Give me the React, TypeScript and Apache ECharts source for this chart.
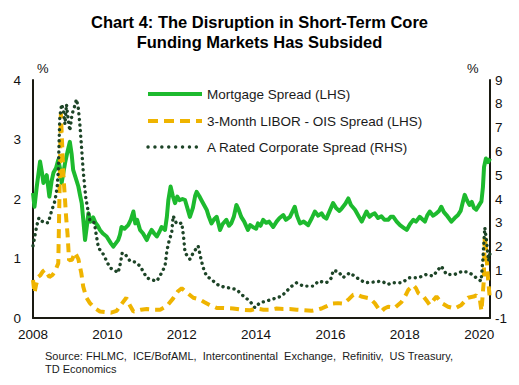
import React, { useEffect, useRef } from "react";
import * as echarts from "echarts";

const titleLines = ["Chart 4: The Disruption in Short-Term Core", "Funding Markets Has Subsided"];
const seriesNames = ["Mortgage Spread (LHS)", "3-Month LIBOR - OIS Spread (LHS)", "A Rated Corporate Spread (RHS)"];
const sourceLines = [
  "Source: FHLMC,  ICE/BofAML,  Intercontinental  Exchange,  Refinitiv,  US Treasury,",
  "TD Economics",
];
const xTickYears = [2008, 2010, 2012, 2014, 2016, 2018, 2020];
const leftTicks = [0, 1, 2, 3, 4];
const rightTicks = [-1, 0, 1, 2, 3, 4, 5, 6, 7, 8, 9];

// [decimal year, % ]
const mortgageSpread: [number, number][] = [
  [2008.0, 2.1], [2008.04, 1.87], [2008.1, 2.2], [2008.19, 2.63], [2008.24, 2.45], [2008.28, 2.27],
  [2008.33, 2.35], [2008.37, 2.4], [2008.44, 2.04], [2008.5, 2.3], [2008.55, 2.44], [2008.62, 2.52],
  [2008.68, 2.66], [2008.73, 2.5], [2008.77, 2.27], [2008.82, 2.45], [2008.86, 2.6], [2008.93, 2.8],
  [2008.99, 2.96], [2009.04, 2.75], [2009.08, 2.49], [2009.15, 2.35], [2009.22, 2.21], [2009.27, 2.05],
  [2009.31, 1.93], [2009.36, 1.6], [2009.4, 1.31], [2009.45, 1.55], [2009.49, 1.76], [2009.55, 1.62],
  [2009.62, 1.69], [2009.68, 1.6], [2009.74, 1.55], [2009.8, 1.48], [2009.88, 1.42], [2009.98, 1.37],
  [2010.05, 1.3], [2010.1, 1.25], [2010.16, 1.2], [2010.22, 1.25], [2010.29, 1.31], [2010.34, 1.4],
  [2010.38, 1.53], [2010.46, 1.5], [2010.56, 1.56], [2010.63, 1.65], [2010.7, 1.79], [2010.75, 1.59],
  [2010.8, 1.65], [2010.88, 1.48], [2010.96, 1.42], [2011.06, 1.31], [2011.12, 1.4], [2011.19, 1.48],
  [2011.26, 1.42], [2011.33, 1.37], [2011.4, 1.45], [2011.46, 1.53], [2011.55, 1.48], [2011.6, 1.7],
  [2011.64, 1.98], [2011.7, 2.21], [2011.76, 2.05], [2011.82, 1.93], [2011.88, 2.04], [2011.94, 1.98],
  [2012.02, 2.0], [2012.09, 1.98], [2012.15, 1.85], [2012.22, 1.7], [2012.3, 1.85], [2012.36, 2.05],
  [2012.4, 2.12], [2012.47, 2.05], [2012.53, 1.98], [2012.6, 1.9], [2012.67, 1.82], [2012.73, 1.7],
  [2012.8, 1.59], [2012.87, 1.66], [2012.94, 1.7], [2013.03, 1.48], [2013.1, 1.58], [2013.2, 1.65],
  [2013.27, 1.55], [2013.33, 1.59], [2013.4, 1.7], [2013.47, 1.9], [2013.53, 1.82], [2013.6, 1.7],
  [2013.68, 1.62], [2013.78, 1.48], [2013.84, 1.56], [2013.91, 1.53], [2014.0, 1.5], [2014.05, 1.59],
  [2014.12, 1.55], [2014.19, 1.65], [2014.27, 1.6], [2014.35, 1.62], [2014.46, 1.53], [2014.55, 1.62],
  [2014.63, 1.68], [2014.73, 1.73], [2014.8, 1.65], [2014.91, 1.7], [2015.04, 1.87], [2015.1, 1.72],
  [2015.18, 1.59], [2015.28, 1.62], [2015.4, 1.56], [2015.5, 1.68], [2015.58, 1.79], [2015.67, 1.72],
  [2015.76, 1.76], [2015.82, 1.7], [2015.89, 1.67], [2015.98, 1.8], [2016.07, 1.93], [2016.15, 1.85],
  [2016.24, 1.8], [2016.3, 1.84], [2016.4, 1.92], [2016.48, 2.01], [2016.55, 1.9], [2016.66, 1.82],
  [2016.75, 1.72], [2016.84, 1.62], [2016.9, 1.7], [2016.97, 1.79], [2017.05, 1.7], [2017.12, 1.74],
  [2017.19, 1.76], [2017.28, 1.68], [2017.37, 1.71], [2017.45, 1.65], [2017.55, 1.65], [2017.62, 1.7],
  [2017.69, 1.7], [2017.78, 1.62], [2017.87, 1.56], [2017.96, 1.52], [2018.05, 1.48], [2018.14, 1.58],
  [2018.23, 1.65], [2018.3, 1.62], [2018.4, 1.7], [2018.47, 1.66], [2018.54, 1.62], [2018.6, 1.72],
  [2018.67, 1.79], [2018.76, 1.72], [2018.85, 1.76], [2018.92, 1.8], [2018.98, 1.87], [2019.05, 1.78],
  [2019.12, 1.73], [2019.18, 1.68], [2019.25, 1.62], [2019.34, 1.68], [2019.43, 1.73], [2019.5, 1.8],
  [2019.56, 1.95], [2019.61, 2.07], [2019.67, 1.98], [2019.74, 1.9], [2019.8, 1.95], [2019.86, 1.85],
  [2019.92, 1.82], [2019.98, 1.88], [2020.06, 1.96], [2020.1, 2.2], [2020.13, 2.54], [2020.18, 2.68],
  [2020.24, 2.62], [2020.29, 2.68],
];

const liborOisSpread: [number, number][] = [
  [2008.0, 0.64], [2008.04, 0.42], [2008.08, 0.55], [2008.14, 0.69], [2008.2, 0.72], [2008.26, 0.78],
  [2008.32, 0.81], [2008.38, 0.75], [2008.44, 0.69], [2008.52, 0.72], [2008.59, 0.78], [2008.68, 0.92],
  [2008.71, 2.0], [2008.75, 3.44], [2008.79, 2.82], [2008.82, 2.37], [2008.86, 2.0], [2008.89, 1.7],
  [2008.93, 1.4], [2008.97, 0.97], [2009.05, 0.98], [2009.13, 1.1], [2009.22, 0.99], [2009.3, 0.75],
  [2009.35, 0.53], [2009.43, 0.35], [2009.53, 0.25], [2009.65, 0.17], [2009.8, 0.11], [2009.95, 0.1],
  [2010.1, 0.09], [2010.25, 0.12], [2010.4, 0.25], [2010.51, 0.34], [2010.6, 0.22], [2010.7, 0.11],
  [2010.9, 0.14], [2011.06, 0.15], [2011.25, 0.14], [2011.42, 0.14], [2011.6, 0.2], [2011.77, 0.33],
  [2011.9, 0.45], [2012.0, 0.5], [2012.15, 0.42], [2012.31, 0.34], [2012.49, 0.31], [2012.6, 0.27],
  [2012.75, 0.22], [2012.94, 0.17], [2013.1, 0.17], [2013.38, 0.16], [2013.6, 0.14], [2013.85, 0.13],
  [2014.0, 0.16], [2014.2, 0.14], [2014.37, 0.14], [2014.55, 0.16], [2014.73, 0.15], [2014.9, 0.15],
  [2015.09, 0.14], [2015.3, 0.13], [2015.49, 0.12], [2015.65, 0.14], [2015.76, 0.16], [2015.9, 0.2],
  [2016.03, 0.24], [2016.2, 0.25], [2016.34, 0.24], [2016.5, 0.32], [2016.61, 0.39], [2016.7, 0.4],
  [2016.83, 0.36], [2017.06, 0.33], [2017.19, 0.25], [2017.3, 0.15], [2017.37, 0.11], [2017.45, 0.16],
  [2017.55, 0.19], [2017.73, 0.17], [2017.91, 0.27], [2018.02, 0.38], [2018.09, 0.47], [2018.23, 0.55],
  [2018.3, 0.5], [2018.36, 0.42], [2018.5, 0.36], [2018.6, 0.28], [2018.67, 0.22], [2018.77, 0.3],
  [2018.85, 0.36], [2018.99, 0.25], [2019.16, 0.19], [2019.34, 0.16], [2019.52, 0.22], [2019.7, 0.34],
  [2019.85, 0.36], [2019.92, 0.38], [2020.02, 0.3], [2020.06, 0.12], [2020.12, 0.6], [2020.15, 1.37],
  [2020.19, 1.1], [2020.24, 0.64], [2020.29, 0.3],
];

const corporateSpread: [number, number][] = [
  [2008.0, 2.03], [2008.05, 2.45], [2008.1, 2.87], [2008.16, 3.21], [2008.22, 3.1], [2008.3, 3.0],
  [2008.41, 3.0], [2008.5, 3.5], [2008.59, 3.92], [2008.65, 4.5], [2008.68, 5.18], [2008.72, 7.42],
  [2008.77, 7.98], [2008.82, 7.7], [2008.86, 7.14], [2008.9, 7.98], [2008.95, 7.3], [2008.99, 6.86],
  [2009.05, 7.56], [2009.12, 7.9], [2009.17, 8.19], [2009.22, 7.8], [2009.26, 7.14], [2009.3, 6.3],
  [2009.35, 5.18], [2009.42, 4.05], [2009.53, 3.08], [2009.65, 3.0], [2009.7, 2.5], [2009.76, 1.95],
  [2009.89, 1.68], [2010.07, 1.11], [2010.2, 1.0], [2010.29, 0.9], [2010.35, 1.3], [2010.4, 1.74],
  [2010.48, 1.68], [2010.61, 1.39], [2010.75, 1.35], [2010.88, 1.18], [2011.06, 0.69], [2011.2, 0.6],
  [2011.33, 0.55], [2011.46, 0.9], [2011.55, 1.18], [2011.6, 1.82], [2011.66, 2.24], [2011.73, 2.59],
  [2011.77, 3.29], [2011.85, 3.0], [2011.91, 2.94], [2012.0, 3.0], [2012.05, 2.4], [2012.09, 1.74],
  [2012.22, 1.47], [2012.31, 1.74], [2012.44, 2.03], [2012.53, 1.39], [2012.6, 1.0], [2012.67, 0.76],
  [2012.8, 0.62], [2012.92, 0.45], [2013.03, 0.34], [2013.25, 0.27], [2013.47, 0.2], [2013.66, -0.08],
  [2013.83, -0.29], [2013.97, -0.57], [2014.1, -0.36], [2014.25, -0.3], [2014.42, -0.22], [2014.69, -0.08],
  [2014.82, 0.13], [2014.96, 0.34], [2015.09, 0.48], [2015.27, 0.34], [2015.4, 0.34], [2015.54, 0.34],
  [2015.68, 0.55], [2015.89, 0.48], [2016.03, 0.69], [2016.07, 1.0], [2016.21, 0.95], [2016.34, 0.7],
  [2016.52, 0.9], [2016.7, 0.7], [2016.93, 0.48], [2017.15, 0.51], [2017.37, 0.55], [2017.55, 0.41],
  [2017.64, 0.48], [2017.91, 0.48], [2018.13, 0.69], [2018.36, 0.69], [2018.58, 0.83], [2018.76, 0.76],
  [2018.9, 1.04], [2018.98, 1.18], [2019.12, 0.83], [2019.34, 0.83], [2019.56, 0.97], [2019.74, 0.9],
  [2019.92, 0.69], [2020.05, 0.55], [2020.1, 1.5], [2020.15, 2.8], [2020.2, 2.2], [2020.25, 1.4],
  [2020.29, 1.7],
];

const GREEN = "#1dba2e";
const GOLD = "#efb400";
const DARK = "#1d4427";
const AXIS = "#1a1a12";
const FONT = "Liberation Sans, Arial, sans-serif";

export default function App() {
  const ref = useRef<HTMLDivElement>(null);
  useEffect(() => {
    if (!ref.current) return;
    const chart = echarts.init(ref.current, undefined, { renderer: "svg" });
    const legendY = [94, 121, 147];
    const legendStyles = [
      { stroke: GREEN, lineWidth: 4, lineDash: null as any, lineCap: "butt" },
      { stroke: GOLD, lineWidth: 4, lineDash: [10, 6], lineCap: "butt" },
      { stroke: DARK, lineWidth: 3.4, lineDash: [0.1, 6.8], lineCap: "round" },
    ];
    const graphic: any[] = [
      ...titleLines.map((t, i) => ({
        type: "text",
        left: "center",
        top: 13 + i * 20,
        style: { text: t, font: `bold 16.5px ${FONT}`, fill: "#000" },
      })),
      { type: "text", x: 37, y: 62, style: { text: "%", font: `13px ${FONT}`, fill: "#111" } },
      { type: "text", x: 467, y: 62, style: { text: "%", font: `13px ${FONT}`, fill: "#111" } },
      ...seriesNames.flatMap((n, i) => [
        {
          type: "line",
          shape: { x1: 148, y1: legendY[i], x2: 202, y2: legendY[i] },
          style: { ...legendStyles[i] },
        },
        {
          type: "text",
          x: 207,
          y: legendY[i],
          style: { text: n, font: `13.5px ${FONT}`, fill: "#1a1a1a", verticalAlign: "middle" },
        },
      ]),
      ...sourceLines.map((t, i) => ({
        type: "text",
        x: 45,
        y: 356 + i * 13,
        style: { text: t, font: `11px ${FONT}`, fill: "#1a1a1a", verticalAlign: "middle" },
      })),
    ];
    const lineOpt = (w: number) => ({ show: true, lineStyle: { color: AXIS, width: w } });
    chart.setOption({
      animation: false,
      grid: { left: 33, right: 29, top: 80, bottom: 67, containLabel: false },
      xAxis: {
        type: "value",
        min: xTickYears[0],
        max: 2020.29,
        interval: 2,
        axisLine: { ...lineOpt(2), onZero: false },
        axisTick: { show: false },
        splitLine: { show: false },
        axisLabel: {
          color: "#111",
          fontSize: 13.5,
          fontFamily: FONT,
          margin: 9,
          showMaxLabel: false,
          formatter: (v: number) => (xTickYears.includes(v) ? String(v) : ""),
        },
      },
      yAxis: [
        {
          type: "value",
          min: leftTicks[0],
          max: leftTicks[leftTicks.length - 1],
          interval: 1,
          position: "left",
          axisLine: lineOpt(2),
          axisTick: { show: false },
          splitLine: { show: false },
          axisLabel: { color: "#111", fontSize: 13.5, fontFamily: FONT, margin: 12 },
        },
        {
          type: "value",
          min: rightTicks[0],
          max: rightTicks[rightTicks.length - 1],
          interval: 1,
          position: "right",
          axisLine: lineOpt(2),
          axisTick: { show: false },
          splitLine: { show: false },
          axisLabel: { color: "#111", fontSize: 13.5, fontFamily: FONT, margin: 5 },
        },
      ],
      series: [
        {
          name: seriesNames[0],
          type: "line",
          yAxisIndex: 0,
          data: mortgageSpread,
          showSymbol: false,
          lineStyle: { color: GREEN, width: 4, join: "round" },
          z: 2,
        },
        {
          name: seriesNames[1],
          type: "line",
          yAxisIndex: 0,
          data: liborOisSpread,
          showSymbol: false,
          lineStyle: { color: GOLD, width: 4, type: [9, 6] },
          z: 3,
        },
        {
          name: seriesNames[2],
          type: "line",
          yAxisIndex: 1,
          data: corporateSpread,
          showSymbol: false,
          lineStyle: { color: DARK, width: 3.4, type: [0.1, 5.5], cap: "round" },
          z: 4,
        },
      ],
      graphic,
    });
    return () => chart.dispose();
  }, []);
  return <div ref={ref} style={{ width: 519, height: 385, margin: -8 }} />;
}
